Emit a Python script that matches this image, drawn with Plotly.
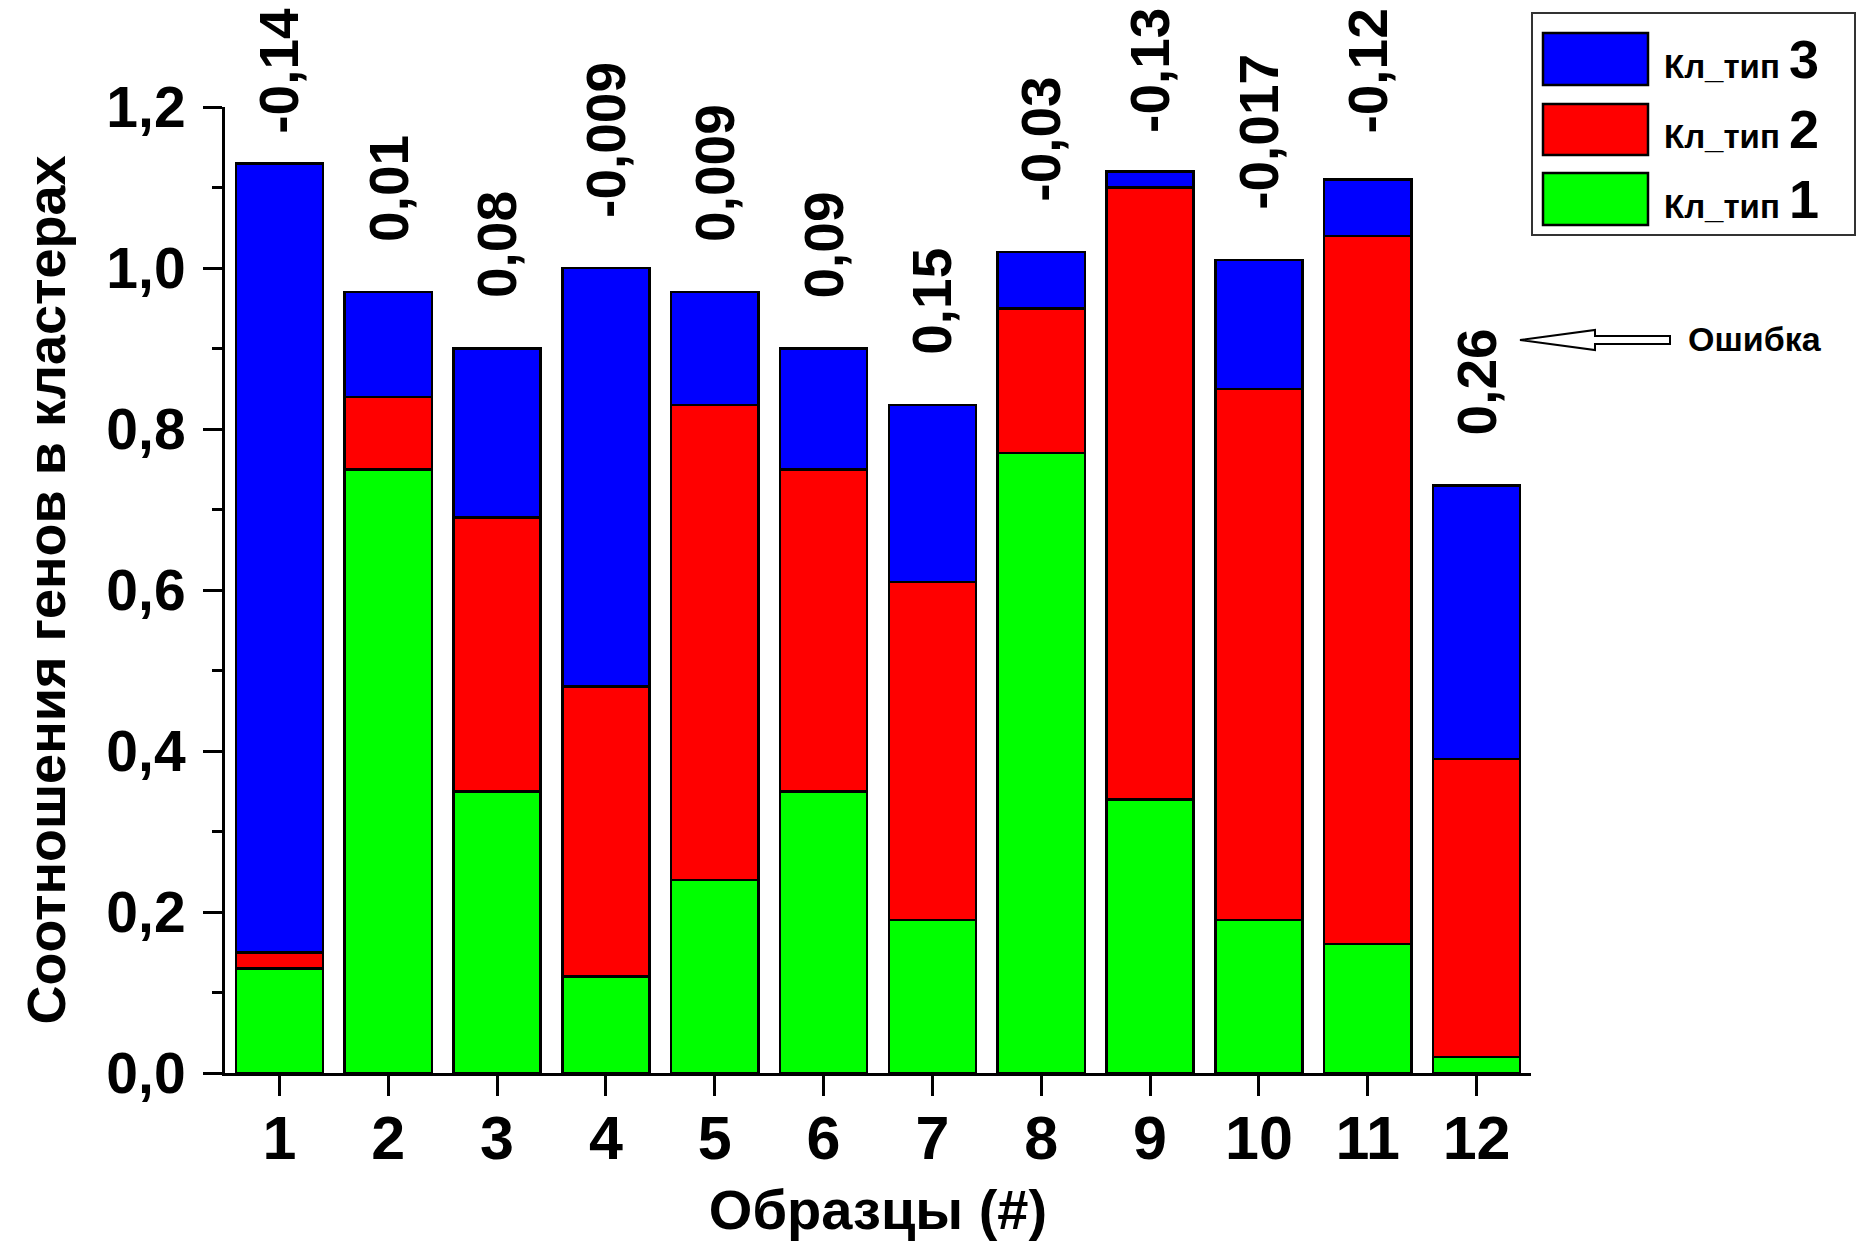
import plotly.graph_objects as go

# ---------------- data ----------------
samples = [str(i) for i in range(1, 13)]
sample_x = list(range(1, 13))
kl_type1 = [0.13, 0.75, 0.35, 0.12, 0.24, 0.35, 0.19, 0.77, 0.34, 0.19, 0.16, 0.02]
kl_type2 = [0.02, 0.09, 0.34, 0.36, 0.59, 0.40, 0.42, 0.18, 0.76, 0.66, 0.88, 0.37]
kl_type3 = [0.98, 0.13, 0.21, 0.52, 0.14, 0.15, 0.22, 0.07, 0.02, 0.16, 0.07, 0.34]
error_labels = ["-0,14", "0,01", "0,08", "-0,009", "0,009", "0,09",
                "0,15", "-0,03", "-0,13", "-0,017", "-0,12", "0,26"]
series_names = ["Кл_тип", "Кл_тип", "Кл_тип"]
series_nums = ["1", "2", "3"]

# ---------------- layout constants ----------------
W, H = 1857, 1241
ML, MR, MT, MB = 225, 326, 107, 168
PW, PH = W - ML - MR, H - MT - MB
YMAX = 1.2
PPU = PH / YMAX

GREEN, RED, BLUE = "#00FF00", "#FF0000", "#0000FF"
BOLD = "Liberation Sans, Arial, sans-serif"


def px2x(px):
    return (px - ML) / PW


def py2y(py):
    return (H - MB - py) / PH


fig = go.Figure()
for vals, col, nm, num in [(kl_type1, GREEN, series_names[0], series_nums[0]),
                           (kl_type2, RED, series_names[1], series_nums[1]),
                           (kl_type3, BLUE, series_names[2], series_nums[2])]:
    fig.add_trace(go.Bar(
        x=sample_x, y=vals, name=f"{nm} {num}", width=0.8,
        marker=dict(color=col, line=dict(color="black", width=2.5)),
        showlegend=False,
    ))

totals = [a + b + c for a, b, c in zip(kl_type1, kl_type2, kl_type3)]

# error labels above bars (rotated)
LBL_FS = 55
cw = {"-": 0.333, ",": 0.278}
annotations = []
for xi, tot, lab in zip(sample_x, totals, error_labels):
    tlen = sum(cw.get(ch, 0.556) for ch in lab) * LBL_FS
    top_px = MT + (YMAX - tot) * PPU
    shift = min(48, top_px - 10 - tlen)
    annotations.append(dict(
        x=xi, y=tot, xref="x", yref="y", text=lab, showarrow=False,
        textangle=-90, xanchor="center", yanchor="bottom", yshift=shift,
        font=dict(family=BOLD, size=LBL_FS, color="black", weight="bold"),
    ))

# custom legend
shapes = []
shapes.append(dict(type="rect", xref="paper", yref="paper",
                   x0=px2x(1532), x1=px2x(1855), y0=py2y(235), y1=py2y(13),
                   line=dict(color="#333333", width=2), fillcolor="white", layer="above"))
rows = [(BLUE, 33, 85, series_names[2], series_nums[2]),
        (RED, 104, 155, series_names[1], series_nums[1]),
        (GREEN, 173, 225, series_names[0], series_nums[0])]
for col, y0, y1, nm, num in rows:
    shapes.append(dict(type="rect", xref="paper", yref="paper",
                       x0=px2x(1543), x1=px2x(1648), y0=py2y(y1), y1=py2y(y0),
                       line=dict(color="black", width=2.5), fillcolor=col, layer="above"))
    annotations.append(dict(
        x=px2x(1662), y=py2y((y0 + y1) / 2), xref="paper", yref="paper",
        xanchor="left", yanchor="middle", showarrow=False,
        text=f"{nm} <span style='font-size:54px'>{num}</span>",
        font=dict(family=BOLD, size=33, color="black", weight="bold"),
    ))

# "Ошибка" hollow arrow
pts = [(1520, 340), (1595, 330), (1595, 336), (1670, 336), (1670, 344),
       (1595, 344), (1595, 350)]
path = "M " + " L ".join(f"{px2x(a):.5f},{py2y(b):.5f}" for a, b in pts) + " Z"
shapes.append(dict(type="path", xref="paper", yref="paper", path=path,
                   line=dict(color="black", width=2), fillcolor="white", layer="above"))
annotations.append(dict(
    x=px2x(1686), y=py2y(339), xref="paper", yref="paper", xanchor="left",
    yanchor="middle", showarrow=False, text="Ошибка",
    font=dict(family=BOLD, size=34, color="black", weight="bold"),
))

fig.update_layout(
    width=W, height=H, barmode="stack",
    margin=dict(l=ML, r=MR, t=MT, b=MB, autoexpand=False),
    paper_bgcolor="white", plot_bgcolor="white",
    separators=", ",
    annotations=annotations, shapes=shapes,
    xaxis=dict(
        range=[0.5, 12.5], tickvals=sample_x, ticktext=samples,
        showline=True, linecolor="black", linewidth=3, showgrid=False, zeroline=False,
        ticks="outside", ticklen=20, tickwidth=2.5, tickcolor="black",
        tickfont=dict(family=BOLD, size=61, color="black", weight="bold"),
        ticklabelstandoff=-10,
        title=dict(text="Образцы (#)", standoff=22,
                   font=dict(family=BOLD, size=56, color="black", weight="bold")),
        automargin=False,
    ),
    yaxis=dict(
        range=[0, YMAX], dtick=0.2, tickformat=".1f",
        showline=True, linecolor="black", linewidth=3, showgrid=False, zeroline=False,
        ticks="outside", ticklen=19, tickwidth=2.5, tickcolor="black",
        minor=dict(dtick=0.1, ticklen=10, tickwidth=2.5, tickcolor="black", ticks="outside"),
        tickfont=dict(family=BOLD, size=57, color="black", weight="bold"),
        ticklabelstandoff=6,
        title=dict(text="Соотношения генов в кластерах", standoff=24,
                   font=dict(family=BOLD, size=54, color="black", weight="bold")),
        automargin=False,
    ),
)

fig.write_html("out.html", config={"displayModeBar": False},
               post_script="document.body.style.margin='0';")
